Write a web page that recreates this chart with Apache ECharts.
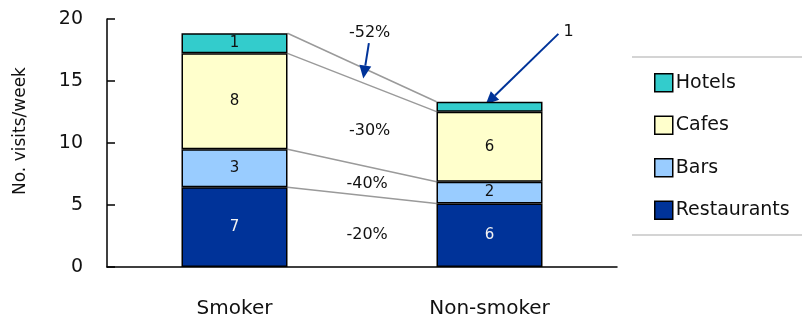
<!DOCTYPE html>
<html>
<head>
<meta charset="utf-8">
<script src="https://cdn.jsdelivr.net/npm/echarts@6/dist/echarts.min.js"></script>
<style>
  html, body { margin: 0; padding: 0; background: #fff; }
  #chart { width: 802px; height: 323px; }
</style>
</head>
<body>
<div id="chart"></div>
<script>
// data
const categories = ['Smoker', 'Non-smoker'];
const seriesNames = ['Restaurants', 'Bars', 'Cafes', 'Hotels'];
const restaurants = [6.43, 5.13];
const bars = [3.06, 1.75];
const cafes = [7.74, 5.65];
const hotels = [1.62, 0.80];
// labels printed inside the bars
const restaurantsLabels = ['7', '6'];
const barsLabels = ['3', '2'];
const cafesLabels = ['8', '6'];
const hotelsLabels = ['1', ''];
// % change between the two groups, bottom to top
const changeLabels = ['-20%', '-40%', '-30%', '-52%'];
const hotelsNote = '1';
const yMin = 0, yMax = 20, yStep = 5;

const colors = ['#003399', '#99CCFF', '#FFFFCC', '#33CCCC'];
const FONT = 'DejaVu Sans';
const BAR_W = 106;

var chartInstance = echarts.init(document.getElementById('chart'), null, {renderer: 'canvas'});

var values = [restaurants, bars, cafes, hotels];
var labels = [restaurantsLabels, barsLabels, cafesLabels, hotelsLabels];

// cumulated tops of every segment, for the connector lines
var connectData = [];
var sumS = 0, sumN = 0;
for (var i = 0; i < values.length; i++) {
  sumS += values[i][0];
  sumN += values[i][1];
  connectData.push([0, sumS, sumN, i]);
}

// where the % texts and arrows sit: t = 0 at Smoker bar, 1 at Non-smoker bar
var changeLabelPos = [[0.52, 2.6], [0.52, 6.7], [0.53, 11.0], [0.53, 18.9]];
var arrows = [
  {from: [0.527, 18.05], to: [0.505, 15.2]},
  {from: [1.27, 18.8], to: [0.985, 13.1]}
];
var notePos = [1.31, 19.0];

function xAt(api, t, v) {
  var a = api.coord([0, v]), b = api.coord([1, v]);
  return [a[0] + (b[0] - a[0]) * t, a[1]];
}

function arrowShape(p0, p1, color) {
  var dx = p1[0] - p0[0], dy = p1[1] - p0[1];
  var len = Math.sqrt(dx * dx + dy * dy);
  var ux = dx / len, uy = dy / len;
  var hl = 13, hw = 6;
  var bx = p1[0] - ux * hl, by = p1[1] - uy * hl;
  return [
    {type: 'line', shape: {x1: p0[0], y1: p0[1], x2: bx, y2: by},
      style: {stroke: color, lineWidth: 2}},
    {type: 'polygon', shape: {points: [[p1[0], p1[1]], [bx - uy * hw, by + ux * hw], [bx + uy * hw, by - ux * hw]]},
      style: {fill: color}}
  ];
}

var barSeries = seriesNames.map(function (name, i) {
  return {
    name: name,
    type: 'bar',
    stack: 'visits',
    barWidth: BAR_W,
    data: values[i],
    itemStyle: {color: colors[i], borderColor: '#000', borderWidth: 1.5},
    label: {
      show: true,
      position: 'inside',
      color: i === 0 ? '#f2f2f2' : '#111',
      fontFamily: FONT,
      fontSize: 15,
      formatter: function (p) { return labels[i][p.dataIndex]; }
    },
    emphasis: {disabled: true}
  };
});

var option = {
  animation: false,
  backgroundColor: '#fff',
  grid: {left: 107, right: 185, top: 19, bottom: 56},
  xAxis: {
    type: 'category',
    data: categories,
    axisLine: {lineStyle: {color: '#000', width: 1.5}},
    axisTick: {inside: true, length: 8, lineStyle: {color: '#000', width: 1.5}},
    axisLabel: {color: '#111', fontFamily: FONT, fontSize: 20, margin: 32}
  },
  yAxis: {
    type: 'value',
    min: yMin, max: yMax, interval: yStep,
    name: 'No. visits/week',
    nameLocation: 'middle',
    nameGap: 78,
    nameTextStyle: {color: '#111', fontFamily: FONT, fontSize: 17, padding: [0, 0, 0, 24]},
    axisLine: {show: true, lineStyle: {color: '#000', width: 1.5}},
    axisTick: {show: true, inside: true, length: 8, lineStyle: {color: '#000', width: 1.5}},
    axisLabel: {color: '#111', fontFamily: FONT, fontSize: 19, margin: 24},
    splitLine: {show: false}
  },
  legend: {
    orient: 'vertical',
    left: 649, top: 68,
    icon: 'rect',
    itemWidth: 18, itemHeight: 18, itemGap: 23,
    data: ['Hotels', 'Cafes', 'Bars', 'Restaurants'],
    itemStyle: {borderColor: '#000', borderWidth: 1.5},
    textStyle: {color: '#111', fontFamily: FONT, fontSize: 19, padding: [0, 0, 0, -2]}
  },
  graphic: [
    {type: 'line', shape: {x1: 632, y1: 57, x2: 802, y2: 57}, style: {stroke: '#d4d4d4', lineWidth: 2}},
    {type: 'line', shape: {x1: 632, y1: 235, x2: 802, y2: 235}, style: {stroke: '#d4d4d4', lineWidth: 2}}
  ],
  series: barSeries.concat([
    {
      type: 'custom',
      name: 'connectors',
      data: connectData,
      encode: {x: 0, y: 1},
      z: 1,
      silent: true,
      renderItem: function (params, api) {
        var i = api.value(3);
        var a = api.coord([0, api.value(1)]);
        var b = api.coord([1, api.value(2)]);
        var lp = xAt(api, changeLabelPos[i][0], changeLabelPos[i][1]);
        var children = [
          {type: 'line', shape: {x1: a[0] + BAR_W / 2, y1: a[1], x2: b[0] - BAR_W / 2, y2: b[1]},
            style: {stroke: '#9a9a9a', lineWidth: 1.5}},
          {type: 'text', x: lp[0], y: lp[1],
            style: {text: changeLabels[i], fill: '#111', font: '16px "' + FONT + '"', align: 'center', verticalAlign: 'middle'}}
        ];
        if (i === values.length - 1) {
          arrows.forEach(function (ar) {
            var p0 = xAt(api, ar.from[0], ar.from[1]);
            var p1 = xAt(api, ar.to[0], ar.to[1]);
            children = children.concat(arrowShape(p0, p1, '#003399'));
          });
          var np = xAt(api, notePos[0], notePos[1]);
          children.push({type: 'text', x: np[0], y: np[1],
            style: {text: hotelsNote, fill: '#111', font: '16px "' + FONT + '"', align: 'center', verticalAlign: 'middle'}});
        }
        return {type: 'group', children: children};
      }
    }
  ])
};

chartInstance.setOption(option);
</script>
</body>
</html>
